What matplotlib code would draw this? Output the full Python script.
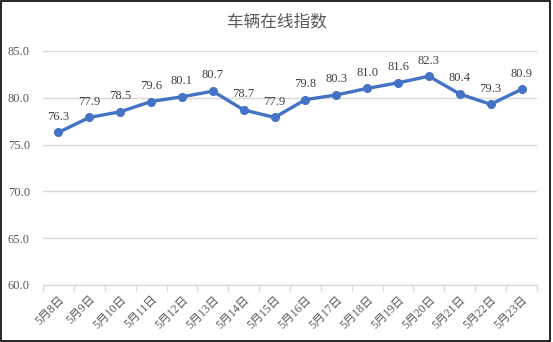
import matplotlib
matplotlib.use("Agg")
import matplotlib.pyplot as plt
from matplotlib.patches import Rectangle
import numpy as np

plt.rcParams['font.family'] = ['Liberation Serif', 'Noto Sans CJK SC', 'DejaVu Sans']

dates = ["5月8日", "5月9日", "5月10日", "5月11日", "5月12日", "5月13日", "5月14日", "5月15日",
         "5月16日", "5月17日", "5月18日", "5月19日", "5月20日", "5月21日", "5月22日", "5月23日"]
values = [76.3, 77.9, 78.5, 79.6, 80.1, 80.7, 78.7, 77.9, 79.8, 80.3, 81.0, 81.6, 82.3, 80.4, 79.3, 80.9]
yticks = [60.0, 65.0, 70.0, 75.0, 80.0, 85.0]
title = "车辆在线指数"

fig = plt.figure(figsize=(5.53, 3.42), dpi=100)
ax = fig.add_axes([0.0778, 0.1667, 0.8932, 0.6843])

x = np.arange(len(values))
line_color = "#4472C4"
ax.plot(x, values, color=line_color, lw=2.4, marker="o", ms=5.5, zorder=3)
for xi, v in zip(x, values):
    ax.annotate(f"{v:.1f}", (xi, v), xytext=(0, 7), textcoords="offset points",
                ha="center", va="bottom", fontsize=9, color="#404040")

ax.set_xlim(-0.5, len(values) - 0.5)
ax.set_ylim(60, 85)
ax.set_yticks(yticks)
ax.set_yticklabels([f"{t:.1f}" for t in yticks], fontsize=9, color="#595959")
ax.grid(axis="y", color="#D9D9D9", lw=1)
ax.set_axisbelow(True)

ax.set_xticks(x)
ax.set_xticklabels(dates, rotation=45, ha="right", rotation_mode="anchor", fontsize=8.5, color="#595959")
ax.set_xticks(np.arange(-0.5, len(values)), minor=True)
ax.tick_params(axis="x", which="major", length=0, pad=6)
ax.tick_params(axis="x", which="minor", length=4, color="#D9D9D9", width=1)
ax.tick_params(axis="y", length=0, pad=9.5)
for s in ["top", "right", "left"]:
    ax.spines[s].set_visible(False)
ax.spines["bottom"].set_color("#D9D9D9")
ax.spines["bottom"].set_linewidth(1)

fig.text(0.5, 0.935, title, ha="center", va="center", fontsize=12, color="#595959")

fig.patches.append(Rectangle((0.002, 0.004), 0.992, 0.992, transform=fig.transFigure,
                             fill=False, edgecolor="black", lw=1.2))

fig.savefig("out.png", dpi=100)
